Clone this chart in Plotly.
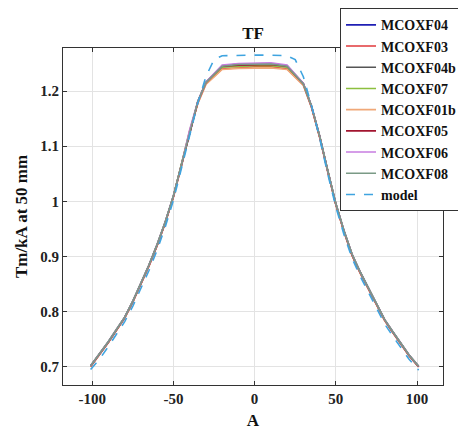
import plotly.graph_objects as go

# Current (A) sample points for the measured series
current = [-101, -95, -90, -85, -80, -75, -70, -65, -60, -55, -50, -45, -40, -35, -30,
           -20, -10, 0, 10, 20,
           30, 35, 40, 45, 50, 55, 60, 65, 70, 75, 80, 85, 90, 95, 101]

mcoxf04 = [0.701, 0.724, 0.745, 0.767, 0.789, 0.818, 0.851, 0.884, 0.921, 0.962, 1.009, 1.066, 1.128, 1.180, 1.215,
           1.244, 1.246, 1.247, 1.247, 1.244,
           1.213, 1.172, 1.118, 1.055, 0.995, 0.946, 0.903, 0.871, 0.843, 0.813, 0.785, 0.763, 0.742, 0.721, 0.700]
mcoxf03 = [0.701, 0.724, 0.745, 0.767, 0.789, 0.818, 0.850, 0.883, 0.920, 0.961, 1.008, 1.065, 1.127, 1.178, 1.213,
           1.240, 1.242, 1.244, 1.244, 1.240,
           1.211, 1.171, 1.117, 1.054, 0.994, 0.945, 0.902, 0.870, 0.842, 0.812, 0.785, 0.763, 0.742, 0.721, 0.700]
mcoxf04b = [0.702, 0.725, 0.746, 0.768, 0.790, 0.819, 0.852, 0.885, 0.922, 0.963, 1.010, 1.067, 1.129, 1.181, 1.216,
            1.246, 1.249, 1.250, 1.250, 1.246,
            1.214, 1.173, 1.119, 1.056, 0.996, 0.947, 0.904, 0.872, 0.844, 0.814, 0.786, 0.764, 0.743, 0.722, 0.701]
mcoxf07 = [0.701, 0.724, 0.745, 0.767, 0.789, 0.818, 0.851, 0.884, 0.921, 0.962, 1.009, 1.066, 1.128, 1.179, 1.214,
           1.243, 1.245, 1.246, 1.246, 1.243,
           1.212, 1.172, 1.118, 1.055, 0.995, 0.946, 0.903, 0.871, 0.843, 0.813, 0.785, 0.763, 0.742, 0.721, 0.700]
mcoxf01b = [0.700, 0.723, 0.744, 0.766, 0.788, 0.817, 0.850, 0.883, 0.920, 0.961, 1.008, 1.064, 1.126, 1.177, 1.212,
            1.239, 1.241, 1.242, 1.242, 1.239,
            1.210, 1.170, 1.116, 1.053, 0.994, 0.945, 0.902, 0.870, 0.842, 0.812, 0.784, 0.762, 0.741, 0.720, 0.700]
mcoxf05 = [0.701, 0.724, 0.745, 0.767, 0.789, 0.818, 0.851, 0.884, 0.921, 0.962, 1.009, 1.066, 1.128, 1.180, 1.215,
           1.245, 1.247, 1.248, 1.248, 1.245,
           1.213, 1.172, 1.118, 1.055, 0.995, 0.946, 0.903, 0.871, 0.843, 0.813, 0.785, 0.763, 0.742, 0.721, 0.700]
mcoxf06 = [0.702, 0.725, 0.746, 0.768, 0.790, 0.819, 0.852, 0.885, 0.922, 0.963, 1.010, 1.067, 1.130, 1.181, 1.216,
           1.247, 1.250, 1.251, 1.251, 1.247,
           1.214, 1.173, 1.119, 1.056, 0.996, 0.947, 0.904, 0.872, 0.844, 0.814, 0.786, 0.764, 0.743, 0.722, 0.701]
mcoxf08 = [0.702, 0.725, 0.746, 0.768, 0.790, 0.819, 0.852, 0.885, 0.922, 0.963, 1.010, 1.067, 1.129, 1.181, 1.215,
           1.245, 1.248, 1.249, 1.249, 1.245,
           1.213, 1.173, 1.119, 1.056, 0.996, 0.947, 0.904, 0.872, 0.844, 0.814, 0.786, 0.764, 0.743, 0.722, 0.701]

# Model curve
model_current = [-101, -95, -90, -85, -80, -75, -70, -65, -60, -55, -50, -45, -40, -35, -30, -25,
                 -20, -10, 0, 10, 20,
                 25, 30, 35, 40, 45, 50, 55, 60, 65, 70, 75, 80, 85, 90, 95, 101]
model_tf = [0.695, 0.716, 0.737, 0.759, 0.782, 0.810, 0.842, 0.875, 0.912, 0.954, 1.002, 1.060, 1.122, 1.178, 1.226, 1.257,
            1.264, 1.265, 1.265, 1.265, 1.264,
            1.257, 1.226, 1.174, 1.115, 1.050, 0.990, 0.940, 0.897, 0.864, 0.836, 0.806, 0.778, 0.756, 0.735, 0.714, 0.694]

series_names = ["MCOXF04", "MCOXF03", "MCOXF04b", "MCOXF07", "MCOXF01b", "MCOXF05", "MCOXF06", "MCOXF08"]
series_values = [mcoxf04, mcoxf03, mcoxf04b, mcoxf07, mcoxf01b, mcoxf05, mcoxf06, mcoxf08]
series_colors = ["#1f1fb4", "#e0393b", "#555555", "#8cbf3f", "#f0a878", "#a2142f", "#c77ce0", "#7a9a86"]

y_ticks = [0.7, 0.8, 0.9, 1.0, 1.1, 1.2]
y_labels = ["0.7", "0.8", "0.9", "1", "1.1", "1.2"]
x_ticks = [-100, -50, 0, 50, 100]
x_labels = ["-100", "-50", "0", "50", "100"]

FONT = "Liberation Serif"

fig = go.Figure()
for name, vals, col in zip(series_names, series_values, series_colors):
    fig.add_trace(go.Scatter(x=current, y=vals, mode="lines", name=name,
                             line=dict(color=col, width=1.6)))
fig.add_trace(go.Scatter(x=model_current, y=model_tf, mode="lines", name="model",
                         line=dict(color="#3fa4e0", width=1.6, dash="dash")))

axis_common = dict(
    showline=True, linecolor="#333333", linewidth=1, mirror="ticks",
    ticks="inside", ticklen=4, tickcolor="#333333",
    showgrid=True, gridcolor="#e3e3e3", gridwidth=1, zeroline=False,
    tickfont=dict(family=FONT, size=15, color="#222222", weight="bold"),
)

# The page body has an 8px margin, so the figure is sized to 458x422
fig.update_layout(
    width=458, height=422,
    margin=dict(l=55, r=23, t=40, b=45, autoexpand=False),
    paper_bgcolor="white", plot_bgcolor="white",
    title=dict(text="TF", x=0.5, xref="paper", xanchor="center",
               y=1 - 25 / 422, yref="container", yanchor="middle",
               font=dict(family=FONT, size=17, color="#111111", weight="bold")),
    xaxis=dict(range=[-118, 116], tickvals=x_ticks, ticktext=x_labels,
               title=dict(text="A", font=dict(family=FONT, size=17, color="#111111", weight="bold"), standoff=16),
               **axis_common),
    yaxis=dict(range=[0.667, 1.278], tickvals=y_ticks, ticktext=y_labels,
               title=dict(text="Tm/kA at 50 mm", font=dict(family=FONT, size=17, color="#111111", weight="bold"), standoff=8),
               **axis_common),
    legend=dict(x=0.729, y=1.118, xanchor="left", yanchor="top",
                bgcolor="white", bordercolor="#333333", borderwidth=1,
                font=dict(family=FONT, size=14, color="#111111", weight="bold"),
                tracegroupgap=0, itemwidth=30),
    showlegend=True,
)

fig.write_html("out.html")
